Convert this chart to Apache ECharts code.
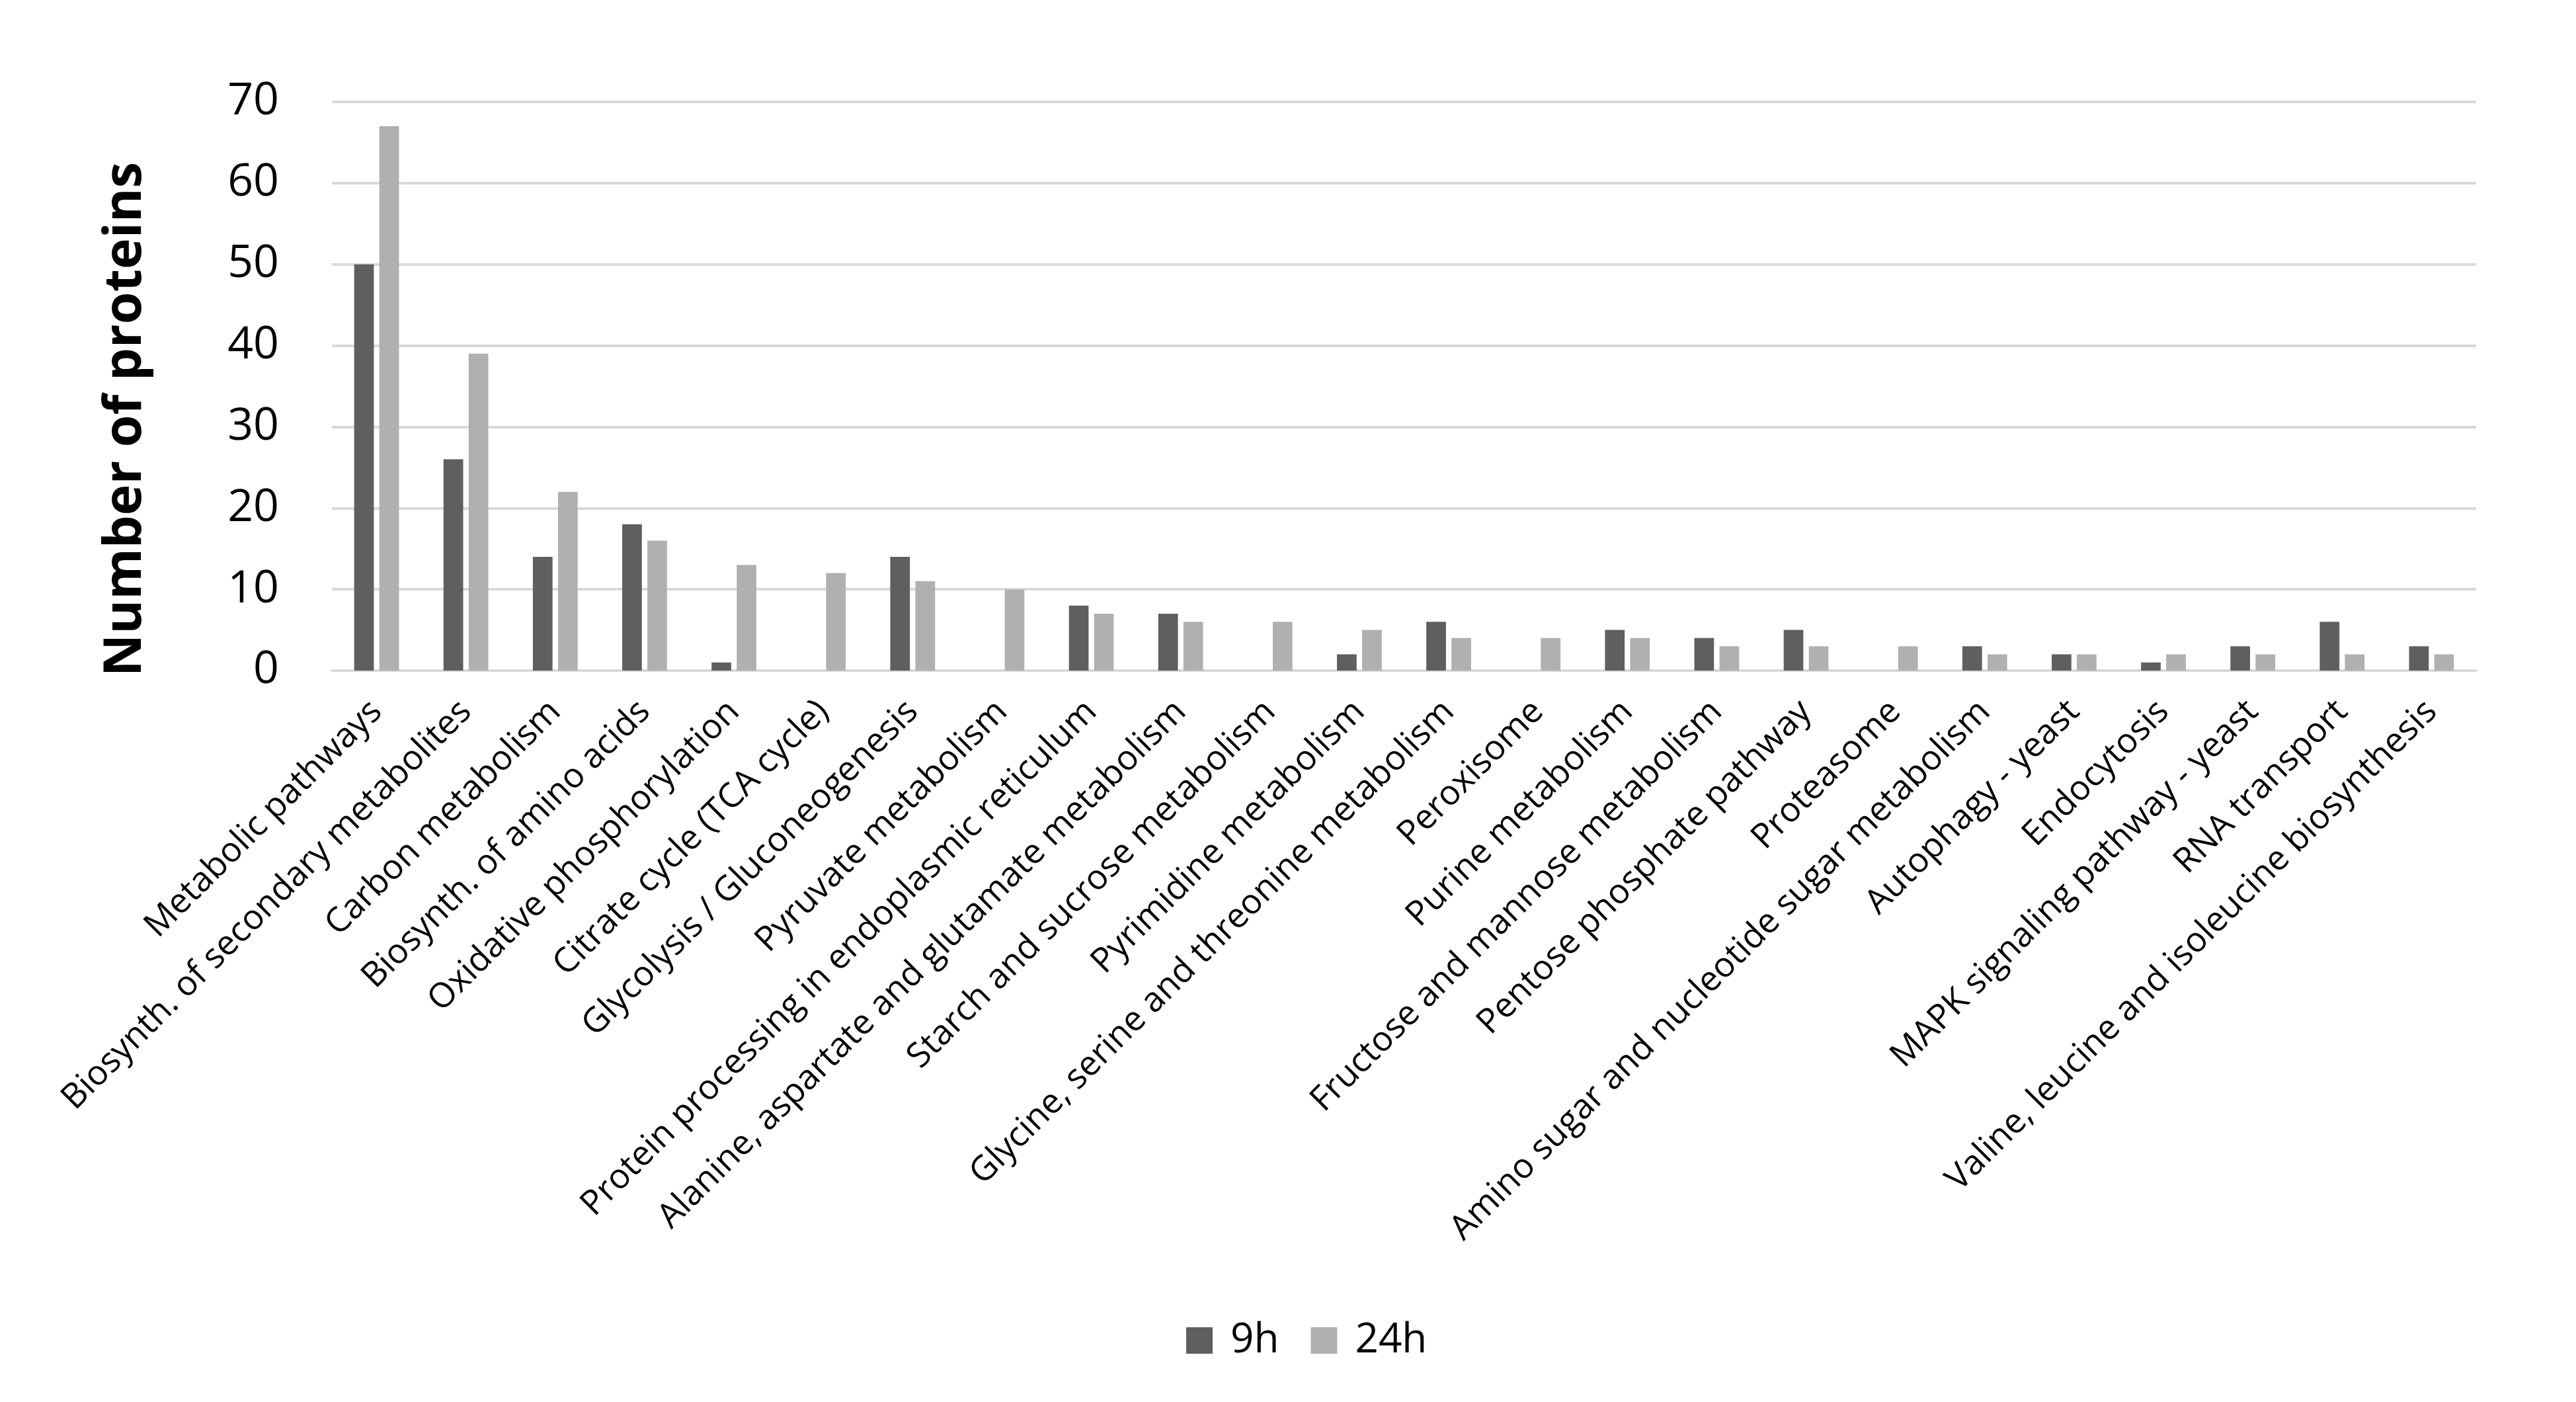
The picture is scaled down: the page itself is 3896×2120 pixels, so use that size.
<!DOCTYPE html>
<html>
<head>
<meta charset="utf-8">
<script src="https://cdn.jsdelivr.net/npm/echarts@6/dist/echarts.min.js"></script>
<style>
html,body{margin:0;padding:0;background:#fff;}
#chart{width:3896px;height:2120px;}
</style>
</head>
<body>
<div id="chart"></div>
<script>
const categories = [
  "Metabolic pathways",
  "Biosynth. of secondary metabolites",
  "Carbon metabolism",
  "Biosynth. of amino acids",
  "Oxidative phosphorylation",
  "Citrate cycle (TCA cycle)",
  "Glycolysis / Gluconeogenesis",
  "Pyruvate metabolism",
  "Protein processing in endoplasmic reticulum",
  "Alanine, aspartate and glutamate metabolism",
  "Starch and sucrose metabolism",
  "Pyrimidine metabolism",
  "Glycine, serine and threonine metabolism",
  "Peroxisome",
  "Purine metabolism",
  "Fructose and mannose metabolism",
  "Pentose phosphate pathway",
  "Proteasome",
  "Amino sugar and nucleotide sugar metabolism",
  "Autophagy - yeast",
  "Endocytosis",
  "MAPK signaling pathway - yeast",
  "RNA transport",
  "Valine, leucine and isoleucine biosynthesis"
];
const values9h  = [50, 26, 14, 18, 1, 0, 14, 0, 8, 7, 0, 2, 6, 0, 5, 4, 5, 0, 3, 2, 1, 3, 6, 3];
const values24h = [67, 39, 22, 16, 13, 12, 11, 10, 7, 6, 6, 5, 4, 4, 4, 3, 3, 3, 2, 2, 2, 2, 2, 2];
const seriesNames = ["9h", "24h"];
const yTicks = {min: 0, max: 70, interval: 10};

const chart = echarts.init(document.getElementById('chart'));
chart.setOption({
  backgroundColor: '#ffffff',
  animation: false,
  textStyle: {fontFamily: 'Open Sans'},
  grid: {left: 502, right: 151, top: 154, bottom: 1106, containLabel: false},
  legend: {
    bottom: 62,
    left: 1794,
    padding: 0,
    itemWidth: 40,
    itemHeight: 40,
    itemGap: 48,
    icon: 'rect',
    textStyle: {fontSize: 62, color: '#000', fontFamily: 'Open Sans', padding: [0,0,0,22]},
    data: seriesNames
  },
  xAxis: {
    type: 'category',
    data: categories,
    axisLine: {show: true, lineStyle: {color: '#d9d9d9', width: 4}},
    axisTick: {show: false},
    axisLabel: {
      interval: 0,
      rotate: 45,
      margin: 54,
      fontSize: 52,
      color: '#000',
      fontFamily: 'Open Sans'
    }
  },
  yAxis: {
    type: 'value',
    min: yTicks.min,
    max: yTicks.max,
    interval: yTicks.interval,
    name: 'Number of proteins',
    nameLocation: 'middle',
    nameGap: 272,
    nameTextStyle: {fontSize: 79, fontWeight: 'bold', color: '#000', fontFamily: 'Open Sans', padding: [0, 100, 0, 0]},
    axisLine: {show: false},
    axisTick: {show: false},
    splitLine: {lineStyle: {color: '#d9d9d9', width: 4}},
    axisLabel: {fontSize: 68, color: '#000', margin: 80, fontFamily: 'Open Sans'}
  },
  series: [
    {name: seriesNames[0], type: 'bar', data: values9h, barWidth: '22%', barGap: '28%',
     itemStyle: {color: '#5f5f5f'}},
    {name: seriesNames[1], type: 'bar', data: values24h, barWidth: '22%',
     itemStyle: {color: '#b0b0b0'}}
  ]
});
</script>
</body>
</html>
